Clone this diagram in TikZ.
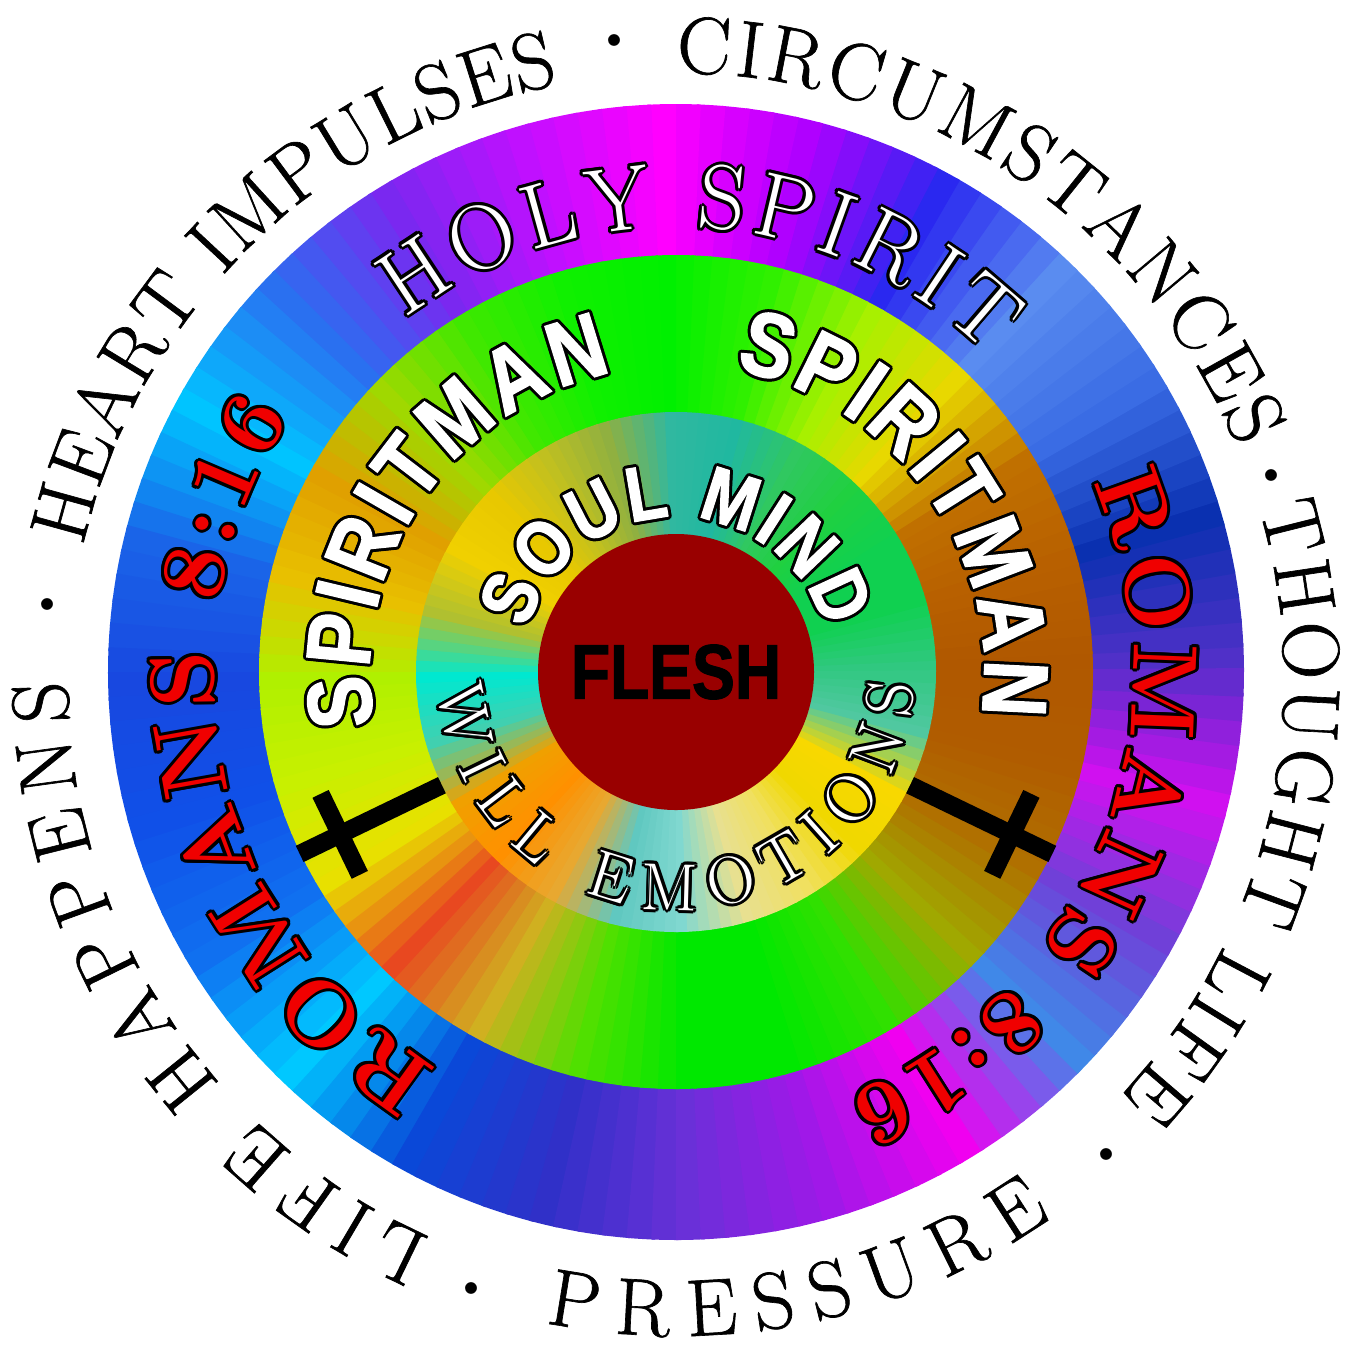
\documentclass[tikz,border=0pt]{standalone}
\usepackage{fontspec}
\usepackage{xcolor}
\usepackage{tikz}
\usetikzlibrary{decorations.text}

\newfontfamily\heavysans{Liberation Sans}[FakeStretch=0.85, FakeBold=1.5]
\newfontfamily\fleshfont{Liberation Sans}[FakeStretch=0.83, FakeBold=1.5]
\newfontfamily\outerserif{Latin Modern Roman}[FakeBold=0.8]

% ring colours, one every 15 degrees counter-clockwise from east
\definecolor{oc0}{HTML}{5030C8}\definecolor{oc1}{HTML}{0A30B0}\definecolor{oc2}{HTML}{3A6CE4}\definecolor{oc3}{HTML}{5A8CF0}
\definecolor{oc4}{HTML}{2A28F0}\definecolor{oc5}{HTML}{B000FF}\definecolor{oc6}{HTML}{FF00FF}\definecolor{oc7}{HTML}{C010FF}
\definecolor{oc8}{HTML}{7A28F0}\definecolor{oc9}{HTML}{2A70F0}\definecolor{oc10}{HTML}{00C4FF}\definecolor{oc11}{HTML}{1A64E8}
\definecolor{oc12}{HTML}{1848E0}\definecolor{oc13}{HTML}{1050E8}\definecolor{oc14}{HTML}{1070F0}\definecolor{oc15}{HTML}{00C8FF}
\definecolor{oc16}{HTML}{0A48D8}\definecolor{oc17}{HTML}{3030C8}\definecolor{oc18}{HTML}{6A30D8}\definecolor{oc19}{HTML}{A018E8}
\definecolor{oc20}{HTML}{F000F0}\definecolor{oc21}{HTML}{4088E8}\definecolor{oc22}{HTML}{7040D8}\definecolor{oc23}{HTML}{D010F0}

\definecolor{mc0}{HTML}{B05800}\definecolor{mc1}{HTML}{B86000}\definecolor{mc2}{HTML}{C07000}\definecolor{mc3}{HTML}{E8D800}
\definecolor{mc4}{HTML}{A8F000}\definecolor{mc5}{HTML}{30F000}\definecolor{mc6}{HTML}{00F000}\definecolor{mc7}{HTML}{10F000}
\definecolor{mc8}{HTML}{40E800}\definecolor{mc9}{HTML}{A0D800}\definecolor{mc10}{HTML}{E0A000}\definecolor{mc11}{HTML}{E8C000}
\definecolor{mc12}{HTML}{B0F000}\definecolor{mc13}{HTML}{C8F000}\definecolor{mc14}{HTML}{E8E000}\definecolor{mc15}{HTML}{E84820}
\definecolor{mc16}{HTML}{D0B020}\definecolor{mc17}{HTML}{50E000}\definecolor{mc18}{HTML}{00E800}\definecolor{mc19}{HTML}{00E800}
\definecolor{mc20}{HTML}{30E000}\definecolor{mc21}{HTML}{A0A800}\definecolor{mc22}{HTML}{B07000}\definecolor{mc23}{HTML}{B05C00}

\definecolor{ic0}{HTML}{30C880}\definecolor{ic1}{HTML}{10D050}\definecolor{ic2}{HTML}{10D050}\definecolor{ic3}{HTML}{20D040}
\definecolor{ic4}{HTML}{30C860}\definecolor{ic5}{HTML}{20B8A0}\definecolor{ic6}{HTML}{30B8A0}\definecolor{ic7}{HTML}{90B040}
\definecolor{ic8}{HTML}{C0C020}\definecolor{ic9}{HTML}{E8C800}\definecolor{ic10}{HTML}{F0D000}\definecolor{ic11}{HTML}{B0C030}
\definecolor{ic12}{HTML}{00E8D0}\definecolor{ic13}{HTML}{40D0B0}\definecolor{ic14}{HTML}{F0A000}\definecolor{ic15}{HTML}{FF9000}
\definecolor{ic16}{HTML}{E8A830}\definecolor{ic17}{HTML}{60C8C0}\definecolor{ic18}{HTML}{80D8D0}\definecolor{ic19}{HTML}{E8E090}
\definecolor{ic20}{HTML}{F0E060}\definecolor{ic21}{HTML}{F0D800}\definecolor{ic22}{HTML}{F8D800}\definecolor{ic23}{HTML}{50C8A0}

\definecolor{fleshred}{HTML}{990000}
\definecolor{romansred}{HTML}{F00000}

\newcommand\outerfont{\outerserif\fontsize{23}{27}\selectfont}
\newcommand\holyfont{\fontsize{26}{30}\selectfont}
\newcommand\romansfont{\bfseries\fontsize{26}{30}\selectfont}
\newcommand\spiritfont{\heavysans\bfseries\fontsize{26}{30}\selectfont}
\newcommand\soulfont{\heavysans\bfseries\fontsize{22}{26}\selectfont}
\newcommand\willfont{\fontsize{19}{23}\selectfont}

% disc filled with a colour wheel: #1 colour prefix, #2 radius
\newcommand\conicring[2]{%
  \foreach \k in {0,...,23}{%
    \pgfmathtruncatemacro\kn{mod(\k+1,24)}%
    \foreach \i in {0,...,5}{%
      \pgfmathtruncatemacro\p{100-\i*100/6}%
      \pgfmathsetmacro\a{\k*15+\i*2.5}%
      \fill[fill=#1\k!\p!#1\kn] (0,0) -- (\a:#2) arc[start angle=\a, end angle=\a+2.9, radius=#2] -- cycle;
    }%
  }%
}

% outlined text on an arc: #1 centre, #2 radius, #3 from, #4 to, #5 font, #6 colour, #7 text
\newcommand\ringtext[7]{%
  \foreach \o in {0,30,...,330}
    \path[shift={(#1)}, shift={(\o:0.03)}, decorate,
      decoration={text along path, text={|#5|#7}, text align=fit to path, text color=black}]
      (#3:#2) arc[start angle=#3, end angle=#4, radius=#2];
  \path[shift={(#1)}, decorate,
    decoration={text along path, text={|#5|#7}, text align=fit to path, text color=#6}]
    (#3:#2) arc[start angle=#3, end angle=#4, radius=#2];
}

% plain black text on an arc round the outside
\newcommand\outertext[4]{%
  \path[shift={(0,-0.09)}, decorate,
    decoration={text along path, text={|\outerfont|#4}, text align=fit to path, text color=black}]
    (#2:#1) arc[start angle=#2, end angle=#3, radius=#1];
}

\begin{document}
\begin{tikzpicture}[
  crossbar/.style={line width=0.18cm, black},
  dot/.style={inner sep=0pt, font=\fontsize{15}{15}\selectfont}
]
\fill[white] (-6.76,-6.75) rectangle (6.79,6.72);
\useasboundingbox (-6.76,-6.75) rectangle (6.79,6.72);

% rings
\conicring{oc}{5.68}
\conicring{mc}{4.17}
\conicring{ic}{2.60}
\fill[fleshred] (0,0) circle[radius=1.38];
\node[font={\fleshfont\bfseries\fontsize{22}{24}\selectfont}] (flesh) at (0,0) {FLESH};

% crosses
\foreach \r in {205.8,-25.8}{
  \begin{scope}[rotate=\r]
    \draw[crossbar] (2.60,0) -- (4.18,0);
    \draw[crossbar] (3.73,-0.45) -- (3.73,0.45);
  \end{scope}
}

% outer words
\outertext{6.08}{167.2}{101.1}{HEART IMPULSES}
\outertext{6.08}{90}{22.5}{CIRCUMSTANCES}
\outertext{6.08}{16.6}{-43}{THOUGHT LIFE}
\outertext{6.55}{258.5}{305}{PRESSURE}
\outertext{6.08}{246.3}{180}{LIFE HAPPENS}
\node[dot] (d1) at (-0.62,6.27) {\textbullet};
\node[dot] (d2) at (5.95,1.92) {\textbullet};
\node[dot] (d3) at (4.30,-4.87) {\textbullet};
\node[dot] (d4) at (-2.05,-6.21) {\textbullet};
\node[dot] (d5) at (-6.29,0.63) {\textbullet};

% ring words
\ringtext{0,0}{4.45}{127.5}{45.5}{\holyfont}{white}{HOLY SPIRIT}
\ringtext{0,0}{4.62}{239}{146.5}{\romansfont}{romansred}{ROMANS 8:16}
\ringtext{0,0}{4.57}{24.5}{-68}{\romansfont}{romansred}{ROMANS 8:16}
\ringtext{0,0}{3.06}{190}{102}{\spiritfont}{white}{SPIRITMAN}
\ringtext{0,0}{3.08}{79}{-8}{\spiritfont}{white}{SPIRITMAN}
\ringtext{0,0}{1.55}{164}{16}{\soulfont}{white}{SOUL MIND}
\ringtext{0,0}{2.38}{184}{357}{\willfont}{white}{WILL EMOTIONS}
\end{tikzpicture}
\end{document}
